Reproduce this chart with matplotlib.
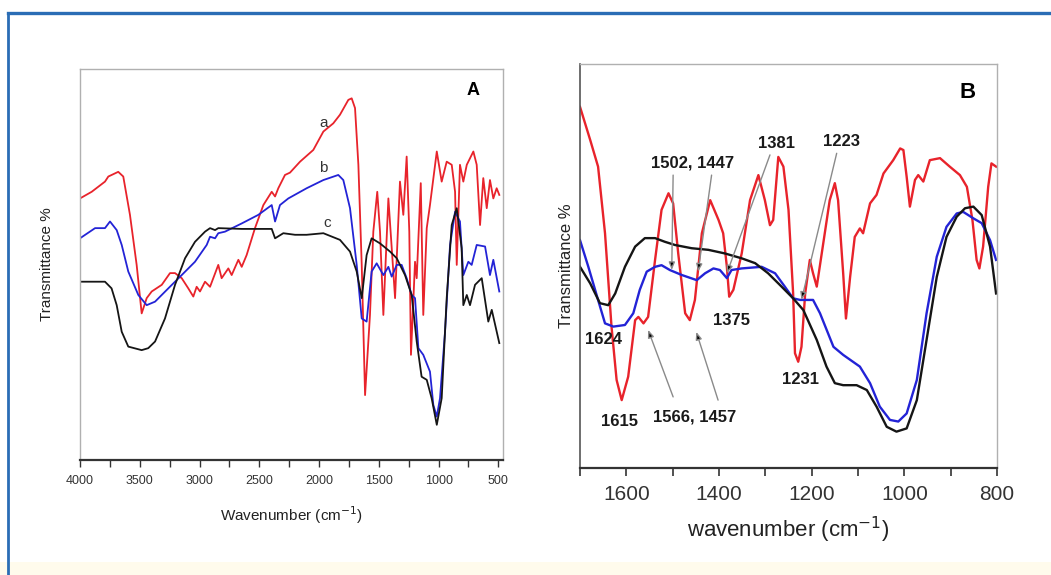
import matplotlib
matplotlib.use("Agg")
import matplotlib.pyplot as plt
from matplotlib.lines import Line2D
from matplotlib.patches import Rectangle
from matplotlib.ticker import MultipleLocator

# ---------------- Panel A data (wavenumber, transmittance arb. %) ----------------
a_red_w = [4000, 3902, 3791, 3763, 3680, 3638, 3582, 3526, 3484, 3442, 3400, 3316, 3247, 3205,
           3149, 3094, 3052, 3024, 2996, 2954, 2912, 2843, 2815, 2759, 2731, 2675, 2647, 2606,
           2536, 2466, 2396, 2368, 2341, 2285, 2243, 2159, 2048, 1964, 1881, 1825, 1755, 1727,
           1699, 1671, 1643, 1615, 1574, 1546, 1513, 1490, 1462, 1420, 1392, 1364, 1323, 1295,
           1267, 1245, 1231, 1197, 1183, 1149, 1128, 1099, 1072, 1015, 974, 932, 890, 862, 848,
           821, 793, 764, 709, 681, 653, 626, 597, 570, 542, 514, 492]
a_red_t = [66.9, 68.6, 71.2, 72.5, 73.7, 72.5, 62.7, 49.9, 37.5, 41.4, 43.1, 44.8, 47.8, 47.8,
           46.5, 43.9, 41.8, 44.3, 43.1, 45.6, 44.3, 49.9, 46.5, 49.0, 47.3, 51.2, 49.4, 52.4,
           59.3, 65.2, 68.6, 67.4, 69.5, 72.9, 73.5, 76.3, 79.3, 84.0, 86.1, 88.3, 92.1, 92.5,
           90.0, 75.5, 49.9, 16.6, 37.1, 58.4, 68.6, 58.4, 37.1, 66.9, 54.2, 41.4, 71.2, 62.7,
           77.6, 58.4, 26.9, 50.7, 46.5, 70.8, 37.1, 59.3, 65.2, 78.9, 71.2, 76.3, 75.5, 68.6, 49.9,
           75.5, 71.2, 75.5, 78.9, 75.5, 60.1, 72.1, 64.4, 71.6, 66.9, 69.5, 67.8]

a_blue_w = [4000, 3874, 3791, 3749, 3693, 3651, 3596, 3512, 3442, 3372, 3261, 3149, 3038, 2940,
            2912, 2870, 2843, 2787, 2647, 2508, 2396, 2368, 2327, 2257, 2104, 1964, 1839, 1797,
            1741, 1685, 1643, 1602, 1560, 1518, 1462, 1420, 1392, 1350, 1309, 1267, 1225, 1197,
            1169, 1128, 1072, 1044, 1015, 988, 946, 904, 862, 821, 793, 751, 723, 681, 611, 570,
            542, 492]
a_blue_t = [56.7, 59.3, 59.3, 61.0, 58.8, 55.0, 48.2, 42.2, 39.6, 40.5, 43.9, 47.3, 50.7, 55.0,
            57.1, 56.7, 58.0, 58.4, 60.5, 62.7, 65.2, 61.0, 65.2, 66.9, 69.5, 71.6, 72.9, 71.6,
            64.4, 49.9, 36.2, 35.4, 48.2, 50.3, 47.3, 49.4, 46.9, 49.9, 49.9, 46.5, 42.2, 41.4,
            28.6, 26.9, 22.6, 14.1, 11.1, 15.8, 32.8, 55.0, 63.5, 61.0, 47.3, 50.7, 49.9, 55.0,
            54.6, 47.3, 51.2, 43.1]

a_black_w = [4000, 3791, 3736, 3693, 3651, 3596, 3484, 3429, 3372, 3289, 3205, 3121, 3038, 2954,
             2912, 2870, 2843, 2647, 2396, 2368, 2299, 2201, 2104, 1964, 1825, 1741, 1685, 1643,
             1602, 1560, 1490, 1406, 1350, 1281, 1225, 1183, 1142, 1099, 1058, 1015, 974, 932,
             890, 848, 807, 793, 764, 737, 695, 639, 584, 555, 492]
a_black_t = [45.6, 45.6, 43.9, 39.6, 32.8, 29.0, 28.1, 28.6, 30.3, 36.2, 44.8, 51.6, 55.8, 58.4,
             59.3, 58.8, 59.3, 59.1, 59.1, 56.7, 58.0, 57.6, 57.6, 58.0, 56.3, 53.3, 48.2, 41.4,
             52.4, 56.7, 55.4, 53.3, 51.6, 47.3, 42.2, 30.3, 21.3, 20.5, 15.8, 9.0, 15.8, 41.4,
             60.1, 64.4, 54.2, 39.6, 42.2, 39.6, 44.8, 46.5, 35.4, 38.4, 29.9]

a_curve_labels = ["a", "b", "c"]
a_curve_label_w = [1964, 1964, 1933]
a_curve_label_t = [86.2, 74.7, 60.6]
a_ticks = [4000, 3500, 3000, 2500, 2000, 1500, 1000, 500]

# ---------------- Panel B data ----------------
b_red_w = [1700, 1678, 1661, 1646, 1632, 1621, 1610, 1596, 1581, 1574, 1563, 1553, 1538, 1524,
           1509, 1499, 1488, 1473, 1463, 1452, 1437, 1419, 1401, 1391, 1383, 1378, 1369, 1351,
           1333, 1315, 1301, 1290, 1283, 1272, 1261, 1250, 1240, 1236, 1229, 1222, 1214, 1204,
           1197, 1189, 1175, 1161, 1150, 1143, 1132, 1126, 1117, 1107, 1096, 1089, 1074, 1060,
           1045, 1024, 1009, 1002, 995, 988, 977, 970, 959, 945, 923, 902, 880, 865, 853, 844,
           838, 830, 819, 812, 802]
b_red_t = [89.4, 81.2, 74.6, 58.1, 35.0, 21.8, 16.8, 22.6, 36.6, 37.4, 35.8, 37.4, 51.5, 63.9,
           68.0, 65.5, 53.1, 38.3, 36.6, 41.6, 58.1, 66.3, 61.4, 58.1, 49.8, 42.4, 44.1, 53.1,
           66.3, 72.5, 66.3, 60.1, 61.4, 77.0, 74.6, 63.9, 43.2, 28.4, 26.3, 30.0, 43.2, 51.5,
           48.2, 44.9, 55.6, 66.3, 70.5, 66.3, 48.2, 37.0, 47.3, 57.2, 59.3, 58.1, 65.5, 67.6,
           72.9, 76.2, 79.1, 78.7, 72.1, 64.7, 71.3, 72.5, 70.9, 76.2, 76.7, 74.6, 72.5, 69.6,
           61.4, 51.5, 49.4, 54.8, 69.6, 75.4, 74.6]

b_blue_w = [1700, 1682, 1661, 1646, 1628, 1603, 1585, 1571, 1556, 1538, 1524, 1506, 1481, 1448,
            1430, 1412, 1398, 1383, 1373, 1351, 1308, 1279, 1258, 1240, 1225, 1197, 1182, 1153,
            1132, 1096, 1074, 1053, 1031, 1013, 995, 973, 952, 930, 909, 887, 873, 851, 833,
            815, 802]
b_blue_t = [56.4, 49.8, 41.6, 35.8, 35.0, 35.4, 38.3, 44.1, 48.6, 49.8, 50.2, 49.0, 47.8, 46.5,
            48.2, 49.4, 49.0, 47.0, 49.0, 49.4, 49.8, 48.2, 44.9, 42.0, 41.6, 41.6, 38.3, 30.0,
            28.0, 25.1, 21.0, 15.2, 11.9, 11.5, 13.5, 21.8, 38.3, 52.3, 59.7, 63.0, 63.4, 61.8,
            60.6, 56.4, 51.5]

b_black_w = [1700, 1678, 1657, 1639, 1624, 1603, 1581, 1560, 1538, 1517, 1495, 1459, 1423, 1387,
             1351, 1322, 1294, 1265, 1240, 1218, 1189, 1168, 1150, 1132, 1103, 1081, 1060, 1038,
             1017, 995, 973, 952, 930, 909, 887, 869, 851, 833, 815, 802]
b_black_t = [49.8, 45.7, 40.8, 40.3, 43.2, 49.8, 54.8, 56.9, 56.9, 56.0, 55.2, 54.4, 54.0, 53.1,
             51.9, 50.7, 48.2, 44.9, 42.0, 39.1, 31.7, 25.1, 21.0, 20.5, 20.5, 19.3, 15.2, 10.2,
             9.0, 9.8, 16.8, 31.7, 47.3, 57.2, 62.2, 64.3, 64.7, 62.6, 54.8, 43.2]

b_ticks = [1600, 1400, 1200, 1000, 800]

# peak labels (text, position)
b_labels = ["1624", "1615", "1566, 1457", "1502, 1447", "1375", "1381", "1223", "1231"]
b_label_w = [1650, 1614, 1452, 1456, 1373, 1276, 1135, 1225]
b_label_t = [31.7, 11.5, 12.6, 75.4, 36.6, 80.4, 80.8, 21.8]

# arrows: tail -> head
b_arrow_tail_w = [1499, 1416, 1290, 1146, 1499, 1402]
b_arrow_tail_t = [72.5, 72.5, 77.5, 77.9, 17.6, 16.8]
b_arrow_head_w = [1502, 1445, 1383, 1222, 1553, 1449]
b_arrow_head_t = [49.0, 48.6, 48.2, 41.6, 34.2, 33.7]

RED = "#e8232b"
BLUE = "#2323d6"
BLACK = "#151515"

plt.rcParams['font.family'] = ['Liberation Sans', 'DejaVu Sans']

fig = plt.figure(figsize=(10.51, 5.75), dpi=100)
fig.patch.set_facecolor("white")

# slide-like frame
fig.add_artist(Rectangle((0, 0), 1, 13 / 575, transform=fig.transFigure,
                         facecolor="#fffbec", edgecolor="none", zorder=0))
fig.add_artist(Line2D([8 / 1051, 1.0], [1 - 13 / 575, 1 - 13 / 575], transform=fig.transFigure,
                      color="#2a6db5", lw=2.4))
fig.add_artist(Line2D([8 / 1051, 8 / 1051], [0, 1 - 13 / 575], transform=fig.transFigure,
                      color="#2a6db5", lw=2.0))

# ---------------- Panel A ----------------
axA = fig.add_axes([80 / 1051, 1 - 460 / 575, 423 / 1051, 391 / 575])
axA.plot(a_red_w, a_red_t, color=RED, lw=1.3)
axA.plot(a_blue_w, a_blue_t, color=BLUE, lw=1.3)
axA.plot(a_black_w, a_black_t, color=BLACK, lw=1.3)
axA.set_xlim(4000, 461)
axA.set_ylim(0, 100)
axA.set_yticks([])
axA.set_xticks(a_ticks)
axA.xaxis.set_minor_locator(MultipleLocator(250))
axA.tick_params(axis='x', which='both', direction='out', length=5, width=1, colors="#333333",
                labelsize=9, pad=6)
for s in ['top', 'right', 'left']:
    axA.spines[s].set_color("#b0b0b0")
    axA.spines[s].set_linewidth(1.0)
axA.spines['bottom'].set_color("#333333")
axA.spines['bottom'].set_linewidth(1.6)
for txt, w, t in zip(a_curve_labels, a_curve_label_w, a_curve_label_t):
    axA.text(w, t, txt, fontsize=11, color="#333333", ha='center', va='center')
axA.text(0.93, 0.945, "A", transform=axA.transAxes, fontsize=13, fontweight='bold',
         ha='center', va='center')
axA.set_xlabel("Wavenumber (cm$^{-1}$)", fontsize=11, labelpad=12, color="#222222")
axA.set_ylabel("Transmittance %", fontsize=11, labelpad=19, color="#222222")

# ---------------- Panel B ----------------
axB = fig.add_axes([580 / 1051, 1 - 468 / 575, 417 / 1051, 404 / 575])
axB.plot(b_red_w, b_red_t, color=RED, lw=1.7)
axB.plot(b_blue_w, b_blue_t, color=BLUE, lw=1.7)
axB.plot(b_black_w, b_black_t, color=BLACK, lw=1.7)
axB.set_xlim(1700, 802)
axB.set_ylim(0, 100)
axB.set_yticks([])
axB.set_xticks(b_ticks)
axB.xaxis.set_minor_locator(MultipleLocator(100))
axB.tick_params(axis='x', which='both', direction='out', length=6, width=1.2, colors="#333333",
                labelsize=15, pad=6)
for s in ['top', 'right']:
    axB.spines[s].set_color("#b0b0b0")
    axB.spines[s].set_linewidth(1.0)
axB.spines['left'].set_color("#555555")
axB.spines['left'].set_linewidth(1.2)
axB.spines['bottom'].set_color("#333333")
axB.spines['bottom'].set_linewidth(1.6)

for tw, tt, hw, ht in zip(b_arrow_tail_w, b_arrow_tail_t, b_arrow_head_w, b_arrow_head_t):
    axB.annotate("", xy=(hw, ht), xytext=(tw, tt),
                 arrowprops=dict(arrowstyle='-|>,head_length=0.45,head_width=0.18',
                                 ec="#8a8a8a", fc="black", lw=1.0, shrinkA=0, shrinkB=0))
for txt, w, t in zip(b_labels, b_label_w, b_label_t):
    axB.text(w, t, txt, fontsize=12, fontweight='bold', color="#1a1a1a", ha='center', va='center')
axB.text(0.93, 0.93, "B", transform=axB.transAxes, fontsize=16, fontweight='bold',
         ha='center', va='center')
axB.set_xlabel("wavenumber (cm$^{-1}$)", fontsize=16, labelpad=8, color="#222222")
axB.set_ylabel("Transmittance %", fontsize=12, labelpad=4, color="#222222")

fig.savefig("out.png", dpi=100, facecolor=fig.get_facecolor())
